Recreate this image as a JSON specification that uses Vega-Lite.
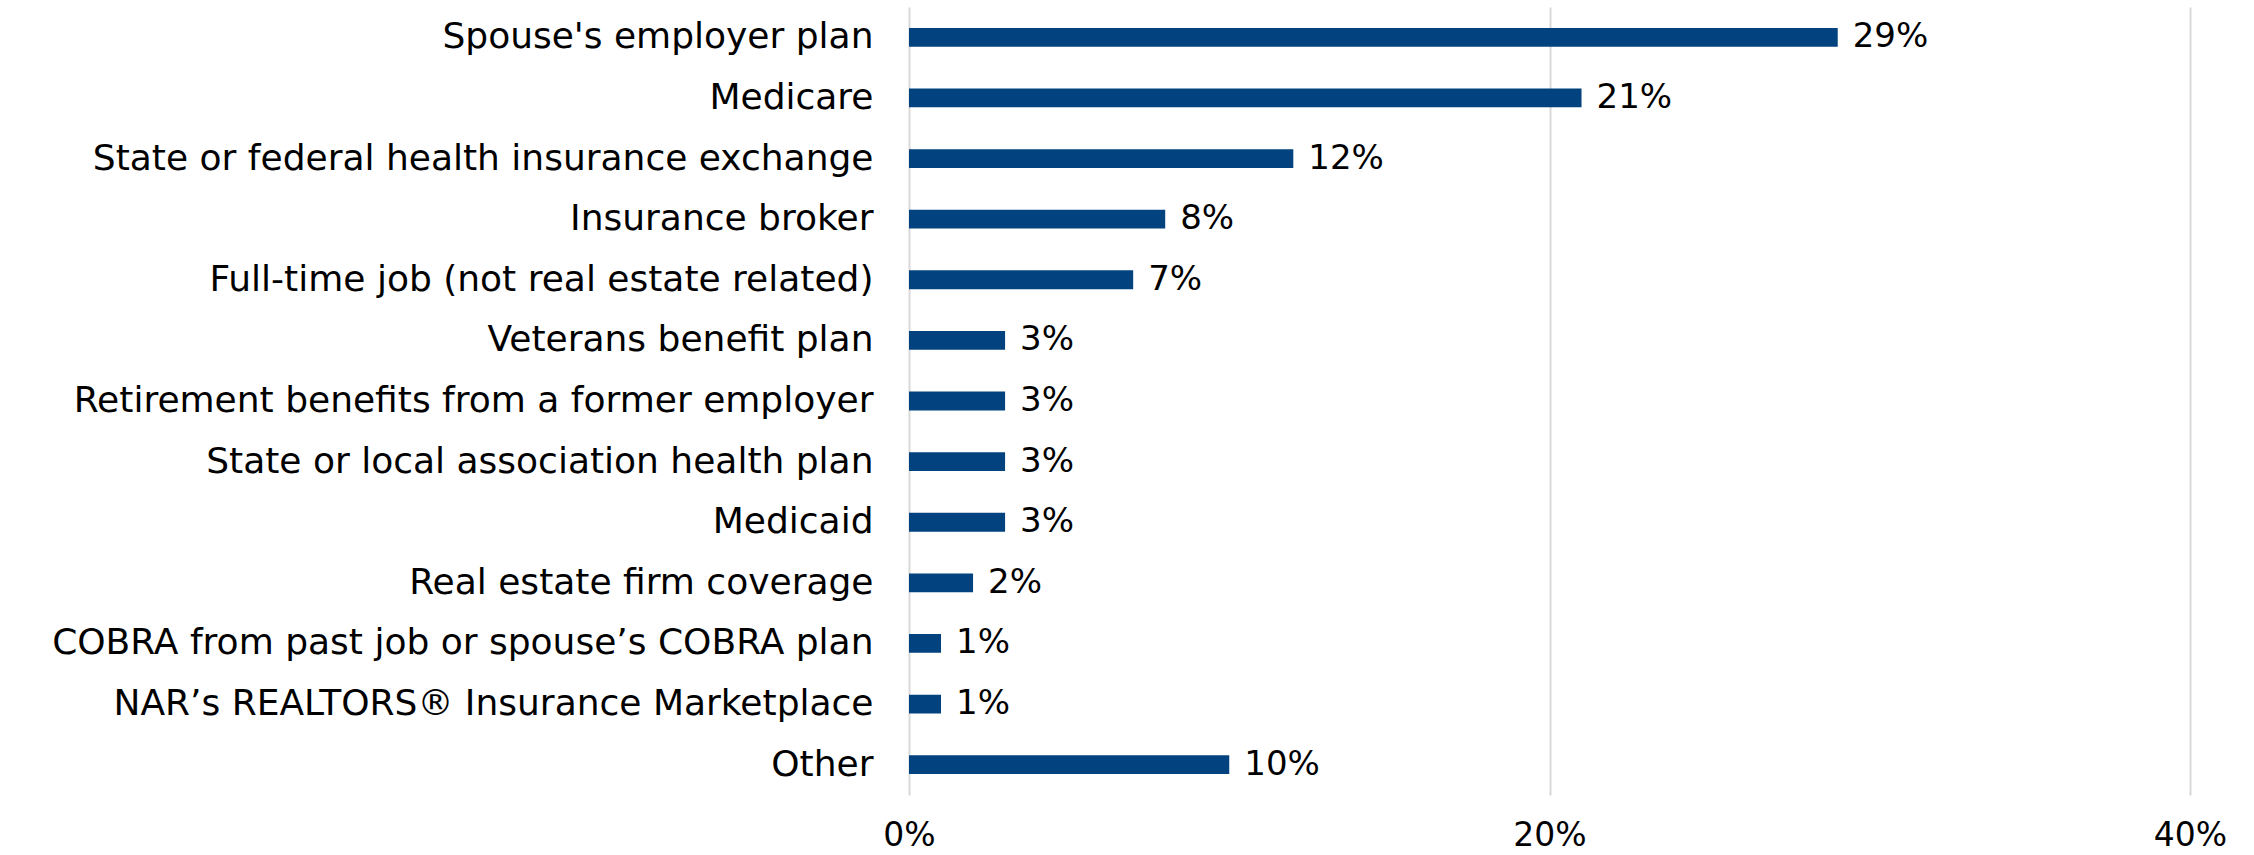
{
  "$schema": "https://vega.github.io/schema/vega-lite/v6.json",
  "width": 1281,
  "height": 788,
  "autosize": {"type": "none"},
  "padding": {"left": 909, "top": 7, "right": 64, "bottom": 60},
  "background": "white",
  "config": {
    "view": {"stroke": null},
    "font": "DejaVu Sans"
  },
  "data": {
    "values": [
      {"source": "Spouse's employer plan", "pct": 29},
      {"source": "Medicare", "pct": 21},
      {"source": "State or federal health insurance exchange", "pct": 12},
      {"source": "Insurance broker", "pct": 8},
      {"source": "Full-time job (not real estate related)", "pct": 7},
      {"source": "Veterans benefit plan", "pct": 3},
      {"source": "Retirement benefits from a former employer", "pct": 3},
      {"source": "State or local association health plan", "pct": 3},
      {"source": "Medicaid", "pct": 3},
      {"source": "Real estate firm coverage", "pct": 2},
      {"source": "COBRA from past job or spouse’s COBRA plan", "pct": 1},
      {"source": "NAR’s REALTORS® Insurance Marketplace", "pct": 1},
      {"source": "Other", "pct": 10}
    ]
  },
  "encoding": {
    "y": {
      "field": "source",
      "type": "nominal",
      "sort": null,
      "scale": {"paddingInner": 0.69, "paddingOuter": 0.345},
      "axis": {
        "title": null,
        "domain": false,
        "ticks": false,
        "labelPadding": 36,
        "labelLimit": 2000,
        "labelFontSize": 36,
        "labelColor": "#000000",
        "labelFont": "DejaVu Sans"
      }
    },
    "x": {
      "field": "pct",
      "type": "quantitative",
      "scale": {"domain": [0, 40]},
      "axis": {
        "title": null,
        "values": [0, 20, 40],
        "labelExpr": "datum.value + '%'",
        "labelFlush": false,
        "domain": false,
        "ticks": false,
        "grid": true,
        "gridColor": "#D9D9D9",
        "gridWidth": 2,
        "labelPadding": 24,
        "labelFontSize": 33,
        "labelColor": "#000000",
        "labelFont": "DejaVu Sans"
      }
    }
  },
  "layer": [
    {
      "mark": {"type": "bar", "color": "#02427F"}
    },
    {
      "transform": [{"calculate": "datum.pct + '%'", "as": "lbl"}],
      "mark": {
        "type": "text",
        "align": "left",
        "baseline": "middle",
        "dx": 15,
        "fontSize": 34,
        "color": "#000000",
        "font": "DejaVu Sans"
      },
      "encoding": {
        "text": {"field": "lbl", "type": "nominal"}
      }
    }
  ]
}
